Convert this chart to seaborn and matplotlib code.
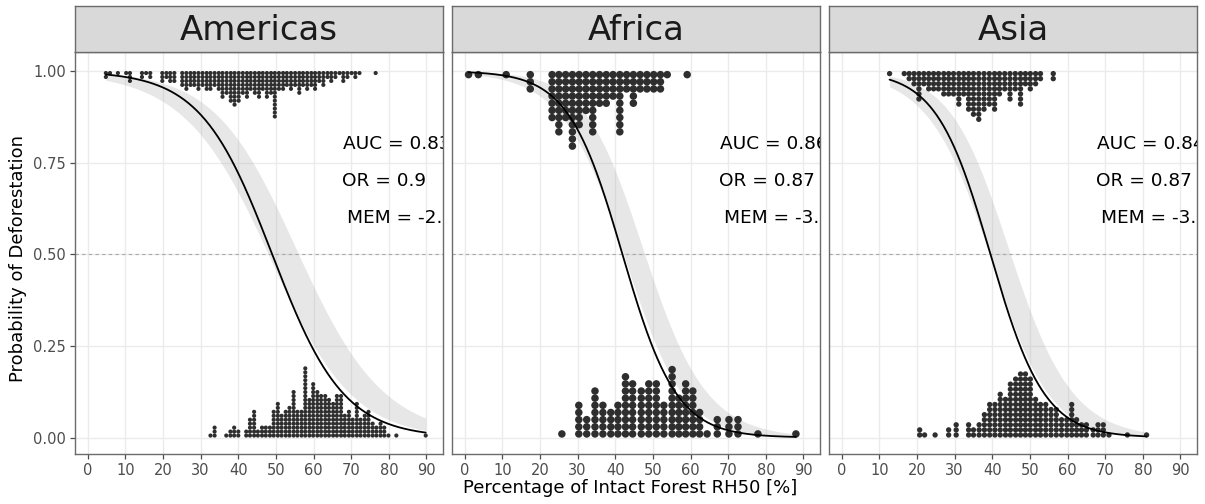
import numpy as np
import pandas as pd
import matplotlib
matplotlib.use("Agg")
import matplotlib.pyplot as plt
import seaborn as sns

# ---------------------------------------------------------------- data
regions = ["Americas", "Africa", "Asia"]

# Dot-plot stacks: x = bin centre (% intact forest), n = number of sites in the stack.
# "def" = deforested (outcome 1, stacked down from 1), "int" = intact (outcome 0, stacked up from 0)
americas_def_x = [4.8, 5.9, 8.0, 10.2, 11.2, 14.4, 15.5, 16.6, 19.8, 20.9, 21.9, 23.0,
                  25.1, 26.2, 27.3, 28.3, 29.4, 30.5, 31.6, 32.6, 33.7, 34.8, 35.8, 36.9,
                  38.0, 39.0, 40.1, 41.2, 42.3, 43.3, 44.4, 45.5, 46.5, 47.6, 48.7, 49.7,
                  50.8, 51.9, 52.9, 54.0, 55.1, 56.2, 57.2, 58.3, 59.4, 60.4, 61.5, 62.6,
                  63.7, 64.7, 65.8, 66.9, 67.9, 69.0, 70.1, 71.1, 72.2, 76.5]
americas_def_n = [2, 1, 1, 1, 3, 2, 1, 2, 3, 2, 3, 3,
                  4, 5, 4, 4, 5, 4, 5, 5, 4, 5, 7, 6,
                  8, 9, 8, 6, 7, 5, 6, 7, 5, 7, 6, 12,
                  5, 5, 4, 5, 4, 6, 4, 5, 4, 5, 3, 4,
                  2, 3, 2, 1, 3, 2, 1, 2, 1, 1]
americas_int_x = [32.6, 33.7, 36.8, 37.9, 38.9, 40.0, 42.1, 43.1, 44.2, 45.2, 46.3, 47.3,
                  48.4, 49.4, 50.5, 51.5, 52.6, 53.6, 54.7, 55.7, 56.8, 57.8, 58.9, 59.9,
                  61.0, 62.0, 63.1, 64.1, 65.2, 66.2, 67.3, 68.3, 69.4, 70.4, 71.5, 72.5,
                  73.6, 74.6, 75.7, 76.7, 77.8, 78.8, 79.9, 82.0, 89.8]
americas_int_n = [1, 3, 1, 2, 3, 2, 2, 5, 7, 2, 3, 3,
                  3, 7, 9, 6, 7, 8, 12, 7, 7, 18, 10, 14,
                  12, 11, 11, 10, 9, 11, 11, 6, 7, 5, 9, 5,
                  6, 7, 4, 3, 4, 3, 1, 1, 1]

africa_def_x = [1.0, 3.6, 11.0, 17.4, 23.2, 25.0, 26.8, 28.6, 30.4, 32.2, 34.0, 35.8,
                37.6, 39.4, 41.2, 43.0, 44.8, 46.6, 48.4, 50.2, 52.0, 53.8, 59.1]
africa_def_n = [1, 1, 1, 3, 7, 9, 7, 11, 8, 6, 9, 5,
                5, 4, 9, 3, 5, 3, 3, 3, 3, 1, 1]
africa_int_x = [25.8, 30.3, 32.4, 34.6, 36.7, 38.8, 40.7, 42.7, 44.6, 46.9, 48.9, 50.9,
                52.9, 55.1, 56.9, 58.7, 60.6, 62.4, 64.4, 67.1, 70.2, 72.6, 77.9, 88.0]
africa_int_n = [1, 5, 3, 7, 5, 4, 5, 9, 8, 7, 8, 8,
                5, 10, 6, 8, 7, 4, 1, 3, 3, 3, 1, 1]

asia_def_x = [12.7, 16.6, 17.9, 19.2, 20.5, 21.8, 23.1, 24.4, 25.7, 27.1, 28.4, 29.7,
              31.1, 32.4, 33.7, 35.0, 36.4, 37.8, 39.2, 40.6, 41.9, 43.3, 44.7, 46.1,
              47.5, 48.8, 50.1, 51.5, 52.8, 56.2]
asia_def_n = [1, 1, 2, 3, 6, 3, 4, 4, 4, 5, 5, 5,
              7, 5, 8, 9, 10, 8, 7, 8, 5, 4, 6, 4,
              7, 3, 4, 3, 2, 2]
asia_int_x = [20.7, 22.0, 24.8, 28.4, 30.4, 33.7, 35.0, 36.5, 37.9, 39.3, 40.7, 42.1,
              43.5, 44.8, 46.2, 47.5, 48.8, 50.1, 51.5, 52.8, 54.2, 55.6, 57.0, 58.4,
              59.8, 61.1, 62.4, 63.7, 65.0, 66.8, 68.1, 69.5, 71.0, 75.9, 81.0]
asia_int_n = [2, 1, 1, 2, 3, 3, 2, 3, 5, 7, 7, 9,
              8, 11, 12, 13, 13, 12, 8, 7, 7, 6, 6, 4,
              4, 7, 4, 3, 3, 2, 3, 3, 1, 1, 1]

# dot diameter (x units) of each region's dot plot
binwidth = [1.05, 1.9, 1.35]

# fitted logistic curve: probability 0.5 at x50, slope on the logit scale = ln(OR)
curve_x50 = [49.0, 41.9, 39.5]
odds_ratio = [0.9, 0.87, 0.87]

# confidence ribbon: centre (x50, slope) and logit half-width at centre / growth
band_x50 = [52.0, 45.0, 42.0]
band_slope = [-0.09, -0.125, -0.125]
band_hw0 = [0.36, 0.35, 0.35]
band_hw1 = [0.010, 0.015, 0.015]

auc_text = ["AUC = 0.83", "AUC = 0.86", "AUC = 0.84"]
or_text = ["OR = 0.9", "OR = 0.87", "OR = 0.87"]
mem_text = ["MEM = -2.41", "MEM = -3.05", "MEM = -3.12"]

x_ticks = list(range(0, 91, 10))
y_ticks = [0.0, 0.25, 0.5, 0.75, 1.0]
y_tick_labels = ["0.00", "0.25", "0.50", "0.75", "1.00"]

dots = {
    "Americas": ((americas_def_x, americas_def_n), (americas_int_x, americas_int_n)),
    "Africa": ((africa_def_x, africa_def_n), (africa_int_x, africa_int_n)),
    "Asia": ((asia_def_x, asia_def_n), (asia_int_x, asia_int_n)),
}

# ---------------------------------------------------------------- style
sns.set_theme(style="white")
plt.rcParams["font.family"] = ["DejaVu Sans"]

W, H, DPI = 1205, 504, 100
fig = plt.figure(figsize=(W / DPI, H / DPI), dpi=DPI)

panel_left = [75, 452, 829]
panel_w = 368
panel_top, panel_bottom = 52, 454
strip_top = 6
XLIM = (-3.4, 94.4)
YLIM = (-0.045, 1.052)

border_col = "#6b6b6b"
tick_col = "#4d4d4d"
grid_col = "#ebebeb"
dot_col = "#2e2e2e"


def logistic(z):
    return 1.0 / (1.0 + np.exp(-z))


for i, region in enumerate(regions):
    L = panel_left[i]
    ax = fig.add_axes([L / W, 1 - panel_bottom / H, panel_w / W,
                       (panel_bottom - panel_top) / H])
    ax.set_xlim(*XLIM)
    ax.set_ylim(*YLIM)
    ax.set_facecolor("white")
    ax.set_axisbelow(True)
    ax.set_xticks(x_ticks)
    ax.set_yticks(y_ticks)
    ax.grid(True, color=grid_col, linewidth=1.0)
    for s in ax.spines.values():
        s.set_visible(True)
        s.set_color(border_col)
        s.set_linewidth(1.0)
    ax.tick_params(axis="x", length=3.5, width=0.9, color=tick_col, pad=3,
                   labelsize=10.5, labelcolor=tick_col, bottom=True)
    if i == 0:
        ax.set_yticklabels(y_tick_labels)
        ax.tick_params(axis="y", length=3.5, width=0.9, color=tick_col, pad=3,
                       labelsize=10.5, labelcolor=tick_col, left=True)
    else:
        ax.tick_params(axis="y", left=False, labelleft=False)

    # reference line at p = 0.5
    ax.axhline(0.5, color="#a8a8a8", linewidth=0.8, linestyle=(0, (3, 3)), zorder=1)

    (dx, dn), (ix, inn) = dots[region]
    all_x = np.array(list(dx) + list(ix))
    xs = np.linspace(all_x.min(), all_x.max(), 300)

    # ribbon
    zc = band_slope[i] * (xs - band_x50[i])
    hw = np.sqrt(band_hw0[i] ** 2 + (band_hw1[i] * (xs - band_x50[i])) ** 2)
    ax.fill_between(xs, logistic(zc - hw), logistic(zc + hw), color="#b0b0b0",
                    alpha=0.3, linewidth=0, zorder=2)

    # dot stacks, sized through the axes' own data->pixel scale
    p0 = ax.transData.transform((0.0, 0.0))
    p1 = ax.transData.transform((1.0, 1.0))
    sx, sy = p1[0] - p0[0], p1[1] - p0[1]
    diam_px = binwidth[i] * sx
    pitch_y = diam_px / sy
    rows = []
    for xv, nv in zip(dx, dn):
        for k in range(nv):
            rows.append((xv, 1.0 - (k + 0.5) * pitch_y))
    for xv, nv in zip(ix, inn):
        for k in range(nv):
            rows.append((xv, (k + 0.5) * pitch_y))
    df = pd.DataFrame(rows, columns=["x", "y"])
    msize = (diam_px * 1.05 * 72.0 / DPI) ** 2
    sns.scatterplot(data=df, x="x", y="y", s=msize, color=dot_col, edgecolor="none",
                    linewidth=0, ax=ax, zorder=3, legend=False)

    # fitted curve
    pc = logistic(np.log(odds_ratio[i]) * (xs - curve_x50[i]))
    sns.lineplot(x=xs, y=pc, ax=ax, color="black", linewidth=1.3, zorder=4)
    ax.set_xlim(*XLIM)
    ax.set_ylim(*YLIM)
    ax.set_xlabel("")
    ax.set_ylabel("")

    # statistics, clipped at the panel edge
    for txt, xv, yv in ((auc_text[i], 67.8, 0.80), (or_text[i], 67.5, 0.70),
                        (mem_text[i], 69.0, 0.60)):
        ax.text(xv, yv, txt, fontsize=13.3, color="black", ha="left", va="center",
                clip_on=True, zorder=5)

    # facet strip
    sax = fig.add_axes([L / W, 1 - panel_top / H, panel_w / W,
                        (panel_top - strip_top) / H])
    sax.set_facecolor("#d9d9d9")
    sax.set_xticks([])
    sax.set_yticks([])
    for s in sax.spines.values():
        s.set_visible(True)
        s.set_color(border_col)
        s.set_linewidth(1.0)
    sax.text(0.5, 0.47, region, transform=sax.transAxes, ha="center", va="center",
             fontsize=24.5, color="#1a1a1a")

fig.text(18 / W, 1 - 258 / H, "Probability of Deforestation", rotation=90,
         ha="center", va="center", fontsize=13, color="black")
fig.text(630 / W, 1 - 488 / H, "Percentage of Intact Forest RH50 [%]",
         ha="center", va="center", fontsize=13, color="black")

fig.savefig("out.png", dpi=DPI)
